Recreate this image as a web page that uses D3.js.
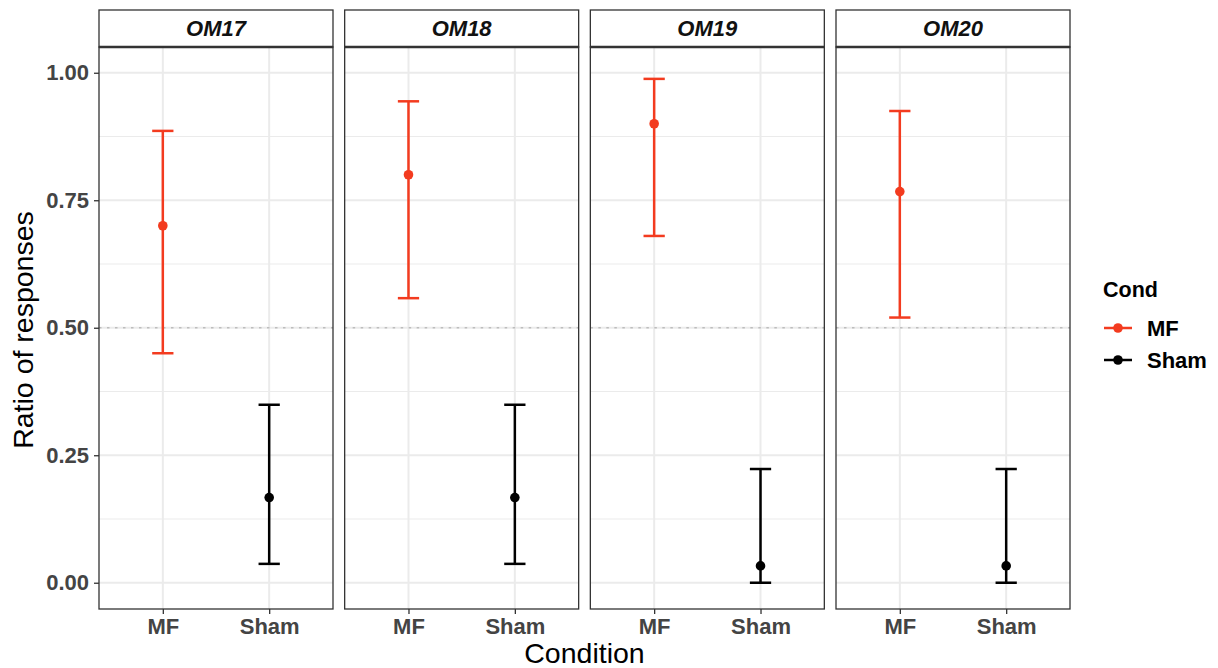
<!DOCTYPE html>
<html>
<head>
<meta charset="utf-8">
<script src="https://cdn.jsdelivr.net/npm/d3@7"></script>
<style>
body { margin: 0; background: #fff; }
svg { display: block; font-family: "Liberation Sans", Arial, sans-serif; }
</style>
</head>
<body>
<svg width="1218" height="668"></svg>
<script>
/*
DATA
*/
var facets = ["OM17", "OM18", "OM19", "OM20"]
var conditions = ["MF", "Sham"]
var mfMean = [0.700, 0.800, 0.900, 0.767]
var mfLower = [0.450, 0.558, 0.680, 0.520]
var mfUpper = [0.886, 0.944, 0.988, 0.925]
var shamMean = [0.167, 0.167, 0.033, 0.033]
var shamLower = [0.037, 0.037, 0.000, 0.000]
var shamUpper = [0.349, 0.349, 0.223, 0.223]
var yTicks = [0, 0.25, 0.5, 0.75, 1]
var yMinor = [0.125, 0.375, 0.625, 0.875]
var refLine = 0.5
var colors = { MF: "#f33b1f", Sham: "#000000" }

var svg = d3.select("svg")

var panelTop = 47, panelBottom = 609
var stripTop = 10

var facetX = d3.scaleBand()
	.domain(facets)
	.range([99, 1070])
	.paddingInner(0.0475)
var w = facetX.bandwidth()

var x = d3.scalePoint()
	.domain(conditions)
	.range([0, w])
	.padding(0.6)

var y = d3.scaleLinear()
	.domain([-0.0515, 1.0505])
	.range([panelBottom, panelTop])

/*
ROWS: one per facet and condition
*/
var rows = []
facets.forEach(function(f, i){
	rows.push({ facet: f, cond: "MF", mean: mfMean[i], lo: mfLower[i], hi: mfUpper[i] })
	rows.push({ facet: f, cond: "Sham", mean: shamMean[i], lo: shamLower[i], hi: shamUpper[i] })
})

var capHalf = x.step() * 0.1

/*
PANELS
*/
facets.forEach(function(f){
	var g = svg.append("g").attr("transform", "translate(" + facetX(f) + ",0)")

	g.append("rect")
		.attr("x", 0).attr("y", panelTop)
		.attr("width", w).attr("height", panelBottom - panelTop)
		.attr("fill", "#fff")

	// minor grid
	g.selectAll(".minor").data(yMinor).enter().append("line")
		.attr("x1", 0).attr("x2", w)
		.attr("y1", function(d){ return y(d) }).attr("y2", function(d){ return y(d) })
		.style("stroke", "#ebebeb").attr("stroke-width", 1)

	// major grid
	g.selectAll(".major").data(yTicks).enter().append("line")
		.attr("x1", 0).attr("x2", w)
		.attr("y1", function(d){ return y(d) }).attr("y2", function(d){ return y(d) })
		.style("stroke", "#ebebeb").attr("stroke-width", 2)
	g.selectAll(".vmajor").data(conditions).enter().append("line")
		.attr("x1", function(d){ return x(d) }).attr("x2", function(d){ return x(d) })
		.attr("y1", panelTop).attr("y2", panelBottom)
		.style("stroke", "#ebebeb").attr("stroke-width", 2)

	// reference line
	g.append("line")
		.attr("x1", 0).attr("x2", w)
		.attr("y1", y(refLine)).attr("y2", y(refLine))
		.style("stroke", "#bdbdbd").attr("stroke-width", 1.4)
		.style("stroke-dasharray", "2.5,5.5")

	var data = rows.filter(function(r){ return r.facet == f })

	var bars = g.selectAll(".bar").data(data).enter().append("g")
	bars.append("line")
		.attr("x1", function(d){ return x(d.cond) }).attr("x2", function(d){ return x(d.cond) })
		.attr("y1", function(d){ return y(d.lo) }).attr("y2", function(d){ return y(d.hi) })
		.style("stroke", function(d){ return colors[d.cond] }).attr("stroke-width", 2.5)
	bars.append("line")
		.attr("x1", function(d){ return x(d.cond) - capHalf }).attr("x2", function(d){ return x(d.cond) + capHalf })
		.attr("y1", function(d){ return y(d.hi) }).attr("y2", function(d){ return y(d.hi) })
		.style("stroke", function(d){ return colors[d.cond] }).attr("stroke-width", 2.5)
	bars.append("line")
		.attr("x1", function(d){ return x(d.cond) - capHalf }).attr("x2", function(d){ return x(d.cond) + capHalf })
		.attr("y1", function(d){ return y(d.lo) }).attr("y2", function(d){ return y(d.lo) })
		.style("stroke", function(d){ return colors[d.cond] }).attr("stroke-width", 2.5)
	bars.append("circle")
		.attr("cx", function(d){ return x(d.cond) })
		.attr("cy", function(d){ return y(d.mean) })
		.attr("r", 4.8)
		.attr("fill", function(d){ return colors[d.cond] })

	// panel border
	g.append("rect")
		.attr("x", 0).attr("y", panelTop)
		.attr("width", w).attr("height", panelBottom - panelTop)
		.attr("fill", "none").style("stroke", "#333").attr("stroke-width", 1.3)

	// strip
	g.append("rect")
		.attr("x", 0).attr("y", stripTop)
		.attr("width", w).attr("height", panelTop - stripTop)
		.attr("fill", "#fff").style("stroke", "#333").attr("stroke-width", 1.3)
	g.append("line")
		.attr("x1", 0).attr("x2", w).attr("y1", panelTop).attr("y2", panelTop)
		.style("stroke", "#333").attr("stroke-width", 2.6)
	g.append("text")
		.attr("x", w / 2).attr("y", 36)
		.attr("text-anchor", "middle")
		.attr("font-size", 22).attr("font-weight", "bold").attr("font-style", "italic")
		.attr("fill", "#111")
		.text(f)

	// x axis
	var xAxis = g.append("g")
		.attr("transform", "translate(0," + panelBottom + ")")
		.call(d3.axisBottom(x).tickSize(5).tickPadding(4))
	xAxis.select(".domain").remove()
	xAxis.selectAll(".tick line").style("stroke", "#333").attr("stroke-width", 1.3)
	xAxis.selectAll(".tick text")
		.attr("font-size", 22).attr("font-weight", "bold").attr("fill", "#444")
		.attr("font-family", "Liberation Sans, Arial, sans-serif")
})

/*
Y AXIS
*/
var yAxis = svg.append("g")
	.attr("transform", "translate(99,0)")
	.call(d3.axisLeft(y).tickValues(yTicks).tickFormat(d3.format(".2f")).tickSize(5).tickPadding(5))
yAxis.select(".domain").remove()
yAxis.selectAll(".tick line").style("stroke", "#333").attr("stroke-width", 1.3)
yAxis.selectAll(".tick text")
	.attr("font-size", 22).attr("font-weight", "bold").attr("fill", "#444")
	.attr("font-family", "Liberation Sans, Arial, sans-serif")

/*
AXIS TITLES
*/
svg.append("text")
	.attr("transform", "translate(33,330) rotate(-90)")
	.attr("text-anchor", "middle")
	.attr("font-size", 28.5)
	.text("Ratio of responses")

svg.append("text")
	.attr("x", (99 + 1070) / 2).attr("y", 663)
	.attr("text-anchor", "middle")
	.attr("font-size", 28.5)
	.text("Condition")

/*
LEGEND
*/
var legend = svg.append("g").attr("transform", "translate(1103,0)")
legend.append("text")
	.attr("x", 0).attr("y", 297)
	.attr("font-size", 21.5).attr("font-weight", "bold")
	.text("Cond")
var keys = legend.selectAll(".key").data(conditions).enter().append("g")
	.attr("transform", function(d, i){ return "translate(0," + (328 + i * 32) + ")" })
keys.append("line")
	.attr("x1", 1).attr("x2", 29).attr("y1", 0).attr("y2", 0)
	.style("stroke", function(d){ return colors[d] }).attr("stroke-width", 2.5)
keys.append("circle")
	.attr("cx", 15).attr("cy", 0).attr("r", 4.8)
	.attr("fill", function(d){ return colors[d] })
keys.append("text")
	.attr("x", 44).attr("y", 8)
	.attr("font-size", 22).attr("font-weight", "bold")
	.text(function(d){ return d })
</script>
</body>
</html>
